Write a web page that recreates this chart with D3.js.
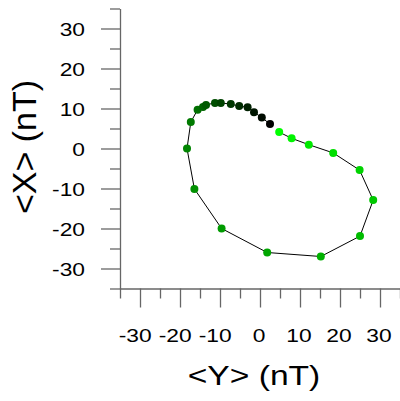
<!DOCTYPE html>
<html lang="en">
  <head>
    <meta charset="UTF-8" />
    <title>Hodogram &lt;Y&gt; vs &lt;X&gt;</title>
    <script src="https://d3js.org/d3.v7.min.js"></script>
    <style>
      body {
        margin: 0;
        background: #fff;
      }
      svg text {
        font-family: "Liberation Sans", Arial, sans-serif;
        fill: #000;
      }
      .axis line,
      .axis path {
        stroke: #666;
        stroke-width: 1.3;
        fill: none;
      }
    </style>
  </head>
  <body>
    <div id="chart"></div>

    <script>
      // field components, in time order (nT)
      const meanY = [4.8, 7.9, 12.2, 18.3, 24.9, 28.3, 25.0, 15.2, 1.8, -9.6, -16.4, -18.25, -17.3, -15.6, -14.25, -13.5, -11.25, -9.8, -7.3, -5.2, -3.1, -1.5, 0.45, 2.5];
      const meanX = [4.1, 2.55, 0.95, -1.1, -5.4, -12.9, -21.9, -27.0, -26.0, -20.0, -10.1, 0.0, 6.6, 9.7, 10.4, 10.9, 11.4, 11.4, 11.1, 10.6, 10.3, 9.05, 7.75, 6.1];

      const majorTicks = [-30, -20, -10, 0, 10, 20, 30];
      const minorTicks = [-35, -25, -15, -5, 5, 15, 25, 35];

      const width = 400;
      const height = 401;

      const svg = d3.select("#chart").append("svg").attr("width", width).attr("height", height);

      const x = d3.scaleLinear().domain([-35, 35]).range([120, 400]);
      const y = d3.scaleLinear().domain([-35, 35]).range([288.5, 8.5]);

      const points = meanY.map((v, i) => ({ y: v, x: meanX[i], i: i }));
      const color = d3
        .scaleLinear()
        .domain([0, points.length - 1])
        .range(["#00ff00", "#000000"]);

      // axes
      const yAxis = svg.append("g").attr("class", "axis").attr("transform", "translate(120,0)");
      yAxis.call(d3.axisLeft(y).tickValues(majorTicks).tickSize(19).tickSizeOuter(0).tickFormat(""));
      svg
        .append("g")
        .attr("class", "axis")
        .attr("transform", "translate(120,0)")
        .call(d3.axisLeft(y).tickValues(minorTicks).tickSize(10).tickSizeOuter(0).tickFormat(""))
        .select(".domain")
        .remove();

      const xAxis = svg.append("g").attr("class", "axis").attr("transform", "translate(0,288.5)");
      xAxis.call(d3.axisBottom(x).tickValues(majorTicks).tickSize(19).tickSizeOuter(0).tickFormat(""));
      svg
        .append("g")
        .attr("class", "axis")
        .attr("transform", "translate(0,288.5)")
        .call(d3.axisBottom(x).tickValues(minorTicks).tickSize(10).tickSizeOuter(0).tickFormat(""))
        .select(".domain")
        .remove();

      // tick labels (font is a bit wide in the original)
      svg
        .selectAll(".ylab")
        .data(majorTicks)
        .enter()
        .append("text")
        .attr("class", "ylab")
        .attr("transform", (d) => `translate(85,${y(d) + 7.5}) scale(1.2,1)`)
        .attr("text-anchor", "end")
        .attr("font-size", 19)
        .text((d) => d);

      svg
        .selectAll(".xlab")
        .data(majorTicks)
        .enter()
        .append("text")
        .attr("class", "xlab")
        .attr("transform", (d) => `translate(${x(d) - 1},342) scale(1.2,1)`)
        .attr("text-anchor", (d) => (d < 0 ? "end" : "middle"))
        .attr("x", (d) => (d < 0 ? "0.556em" : 0))
        .attr("font-size", 19)
        .text((d) => d);

      // axis titles
      svg
        .append("text")
        .attr("transform", "translate(254,385) scale(1.2,1)")
        .attr("text-anchor", "middle")
        .attr("font-size", 28)
        .text("<Y> (nT)");

      svg
        .append("text")
        .attr("transform", "translate(36,147) rotate(-90)")
        .attr("text-anchor", "middle")
        .attr("font-size", 34)
        .text("<X> (nT)");

      // trace
      const line = d3
        .line()
        .x((d) => x(d.y))
        .y((d) => y(d.x));

      svg.append("path").datum(points).attr("d", line).attr("fill", "none").attr("stroke", "#000").attr("stroke-width", 1);

      svg
        .selectAll(".dot")
        .data(points)
        .enter()
        .append("circle")
        .attr("class", "dot")
        .attr("cx", (d) => x(d.y))
        .attr("cy", (d) => y(d.x))
        .attr("r", 4)
        .attr("fill", (d) => color(d.i));
    </script>
  </body>
</html>
